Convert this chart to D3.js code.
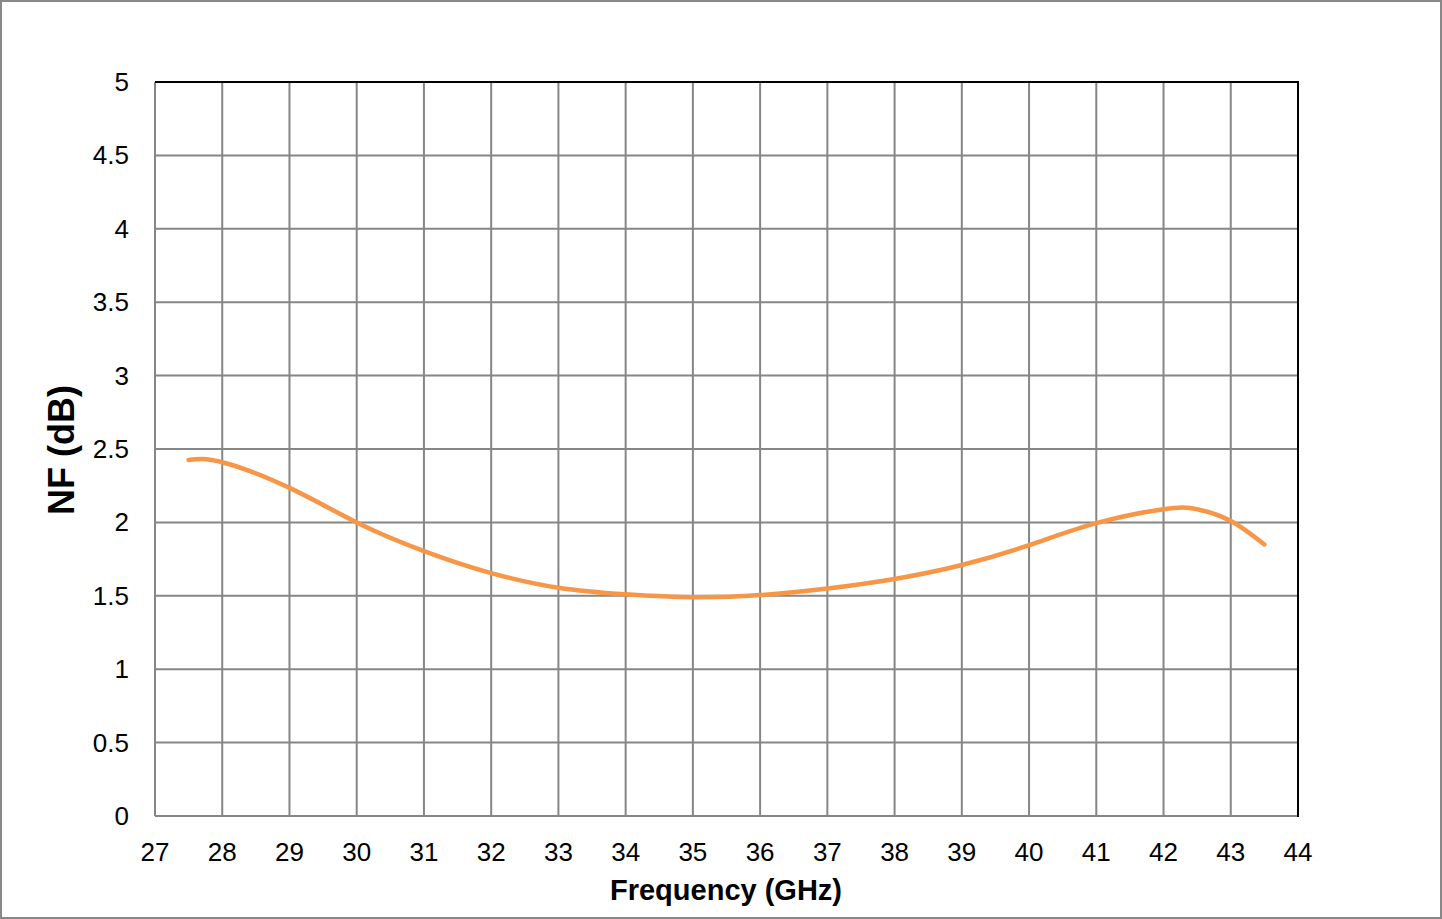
<!DOCTYPE html>
<html><head><meta charset="utf-8">
<script src="https://cdn.jsdelivr.net/npm/d3@7"></script>
<style>body{margin:0;background:#fff;}svg{display:block;font-family:"Liberation Sans",Arial,sans-serif;}</style>
</head><body><svg id="c" width="1442" height="919"></svg>
<script>
const freq = [27.5, 28, 29, 30, 31, 32, 33, 34, 35, 36, 37, 38, 39, 40, 41, 42, 42.5, 43, 43.5];
const nf   = [2.425, 2.41, 2.235, 2.0, 1.805, 1.655, 1.555, 1.51, 1.49, 1.505, 1.55, 1.615, 1.71, 1.845, 1.995, 2.09, 2.09, 2.01, 1.85];
const xTicks = d3.range(27, 45, 1);
const yTicks = [0, 0.5, 1, 1.5, 2, 2.5, 3, 3.5, 4, 4.5, 5];
const xTitle = "Frequency (GHz)";
const yTitle = "NF (dB)";

const svg = d3.select("#c");
svg.append("rect").attr("x",1).attr("y",1).attr("width",1440).attr("height",917).attr("fill","#fff").attr("stroke","#888").attr("stroke-width",2);
const L=155,R=1298,T=82,B=816;
const x = d3.scaleLinear().domain([27,44]).range([L,R]);
const y = d3.scaleLinear().domain([0,5]).range([B,T]);
const g = svg.append("g");
g.selectAll(".vg").data(xTicks).join("line").attr("x1",d=>x(d)).attr("x2",d=>x(d)).attr("y1",T).attr("y2",B).attr("stroke","#868686").attr("stroke-width",2);
g.selectAll(".hg").data(yTicks).join("line").attr("x1",L).attr("x2",R).attr("y1",d=>y(d)).attr("y2",d=>y(d)).attr("stroke","#868686").attr("stroke-width",2);
g.append("line").attr("x1",L).attr("x2",R+1).attr("y1",T).attr("y2",T).attr("stroke","#000").attr("stroke-width",2);
g.append("line").attr("x1",R).attr("x2",R).attr("y1",T).attr("y2",B+1).attr("stroke","#000").attr("stroke-width",2);
g.selectAll(".xt").data(xTicks).join("text").attr("x",d=>x(d)).attr("y",B+45).attr("text-anchor","middle").attr("font-size",26).attr("fill","#000").text(d=>d);
g.selectAll(".yt").data(yTicks).join("text").attr("x",L-26).attr("y",d=>y(d)+9).attr("text-anchor","end").attr("font-size",26).attr("fill","#000").text(d=>d);
svg.append("text").attr("x",726).attr("y",900).attr("text-anchor","middle").attr("font-size",29).attr("font-weight","bold").text(xTitle);
svg.append("text").attr("transform","translate(74,450) rotate(-90)").attr("text-anchor","middle").attr("font-size",36).attr("font-weight","bold").text(yTitle);
const line = d3.line().x((d,i)=>x(freq[i])).y(d=>y(d)).curve(d3.curveNatural);
svg.append("path").datum(nf).attr("d",line).attr("fill","none").attr("stroke","#F79646").attr("stroke-width",4.5).attr("stroke-linecap","round");
</script></body></html>
